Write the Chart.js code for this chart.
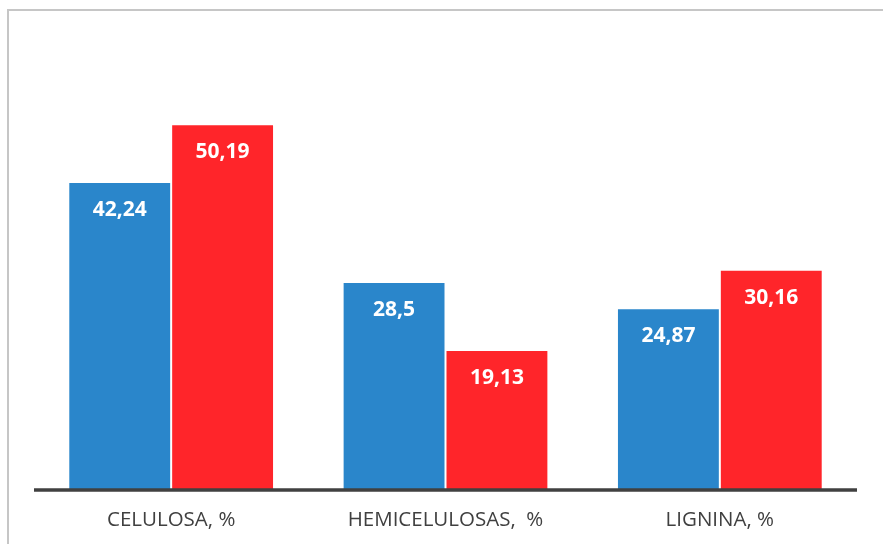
<!DOCTYPE html>
<html>
<head>
<meta charset="utf-8">
<script src="https://cdn.jsdelivr.net/npm/chart.js@4"></script>
<style>
    html, body { margin: 0; background: #ffffff; overflow: hidden; }
    canvas { display: block; }
</style>
</head>
<body>
<canvas id="chart" width="883" height="544"></canvas>
<script>
// --- DATA ---
const categories = ['CELULOSA, %', 'HEMICELULOSAS,  %', 'LIGNINA, %'];
const seriesBlue = [42.24, 28.5, 24.87];
const seriesRed = [50.19, 19.13, 30.16];

const BLUE = '#2A86CB';
const RED = '#FF252A';

// light grey chart frame (only top and left edges are in view)
const frame = {
    id: 'frame',
    beforeDraw(chart) {
        const ctx = chart.ctx;
        ctx.save();
        ctx.strokeStyle = '#c6c6c6';
        ctx.lineWidth = 2;
        ctx.beginPath();
        ctx.moveTo(8, chart.height);
        ctx.lineTo(8, 10);
        ctx.lineTo(chart.width, 10);
        ctx.stroke();
        ctx.restore();
    }
};

// white value labels inside the top of each bar
const valueLabels = {
    id: 'valueLabels',
    afterDatasetsDraw(chart) {
        const ctx = chart.ctx;
        ctx.save();
        ctx.fillStyle = '#ffffff';
        ctx.font = 'bold 21px "Open Sans", sans-serif';
        ctx.textAlign = 'center';
        ctx.textBaseline = 'middle';
        chart.data.datasets.forEach((ds, i) => {
            chart.getDatasetMeta(i).data.forEach((bar, j) => {
                const txt = String(ds.data[j]).replace('.', ',');
                ctx.fillText(txt, bar.x, bar.y + 28);
            });
        });
        ctx.restore();
    }
};

// thick dark baseline along the category axis
const baseLine = {
    id: 'baseLine',
    afterDatasetsDraw(chart) {
        const a = chart.chartArea;
        const ctx = chart.ctx;
        ctx.save();
        ctx.strokeStyle = '#404040';
        ctx.lineWidth = 3.5;
        ctx.beginPath();
        ctx.moveTo(a.left, a.bottom + 1);
        ctx.lineTo(a.right, a.bottom + 1);
        ctx.stroke();
        ctx.restore();
    }
};

new Chart(document.getElementById('chart'), {
    type: 'bar',
    data: {
        labels: categories,
        datasets: [
            {
                data: seriesBlue,
                backgroundColor: BLUE,
                borderColor: 'rgba(255,255,255,0.45)',
                borderWidth: 1,
                categoryPercentage: 0.75,
                barPercentage: 1
            },
            {
                data: seriesRed,
                backgroundColor: RED,
                borderColor: 'rgba(255,255,255,0.45)',
                borderWidth: 1,
                categoryPercentage: 0.75,
                barPercentage: 1
            }
        ]
    },
    options: {
        responsive: false,
        animation: false,
        layout: { padding: { left: 34, right: 26, top: 53, bottom: 0 } },
        plugins: {
            legend: { display: false },
            tooltip: { enabled: false }
        },
        scales: {
            x: {
                grid: { display: false, drawTicks: false },
                border: { display: false },
                ticks: {
                    color: '#404040',
                    font: { family: '"Open Sans", sans-serif', size: 20.5 },
                    padding: 19
                },
                afterFit(scale) { scale.height = 55; }
            },
            y: {
                display: false,
                min: 0,
                max: 60
            }
        }
    },
    plugins: [frame, valueLabels, baseLine]
});
</script>
</body>
</html>
